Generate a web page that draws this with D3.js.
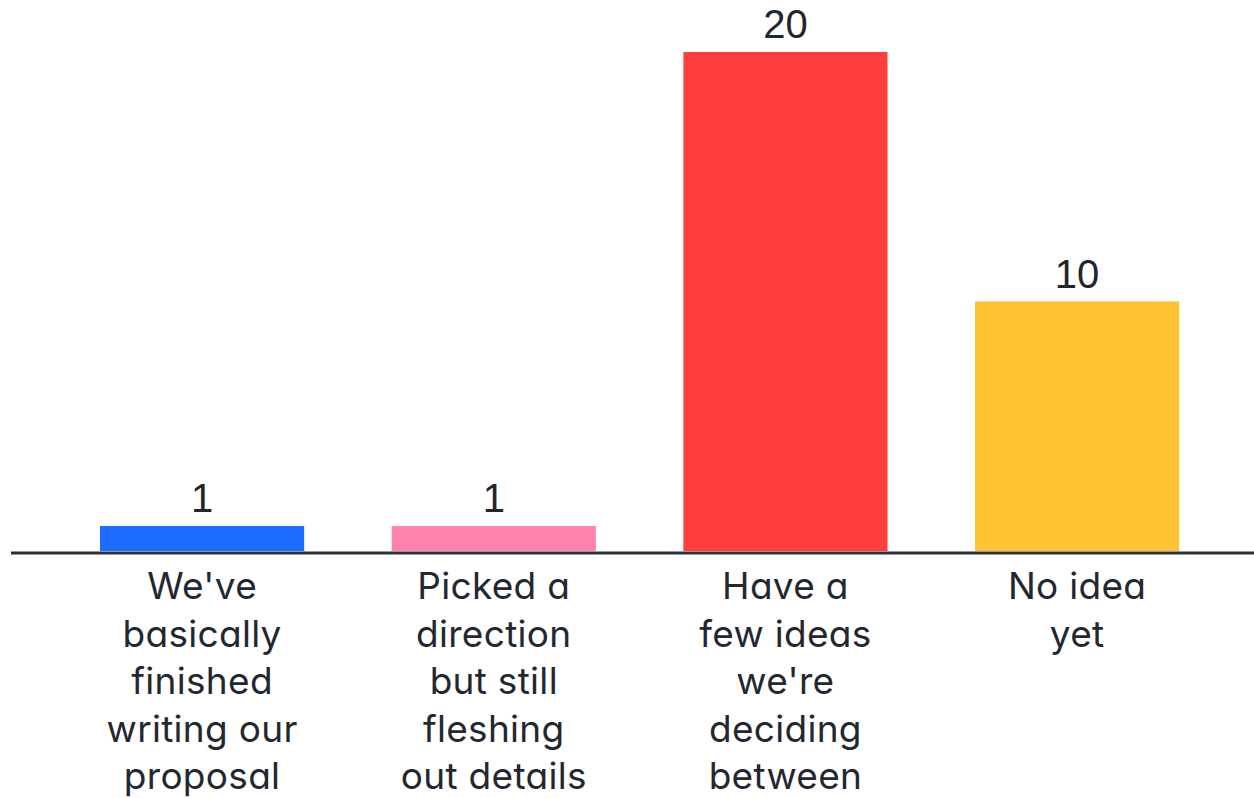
<!DOCTYPE html>
<html>
<head>
<meta charset="utf-8">
<script src="https://cdn.jsdelivr.net/npm/d3@7"></script>
<style>
  html, body { margin: 0; padding: 0; background: #ffffff; }
  svg { display: block; }
  .cat { font-family: Inter, "Noto Sans", sans-serif; font-feature-settings: "cv11" 1; font-size: 37px; font-weight: 400; fill: #23272f; letter-spacing: 0.3px; }
  .val { font-family: "Liberation Sans", Arial, sans-serif; font-size: 40px; fill: #22252b; }
</style>
</head>
<body>
<svg id="chart" width="1254" height="798"></svg>
<script>
// Survey answers: where teams are with their proposal
const categories = [
  "We've\nbasically\nfinished\nwriting our\nproposal",
  "Picked a\ndirection\nbut still\nfleshing\nout details",
  "Have a\nfew ideas\nwe're\ndeciding\nbetween",
  "No idea\nyet"
];
const counts = [1, 1, 20, 10];
const barColors = ["#1c6cff", "#ff82ae", "#ff3f3d", "#ffc233"];

const width = 1254, height = 798;
const baseY = 551, topY = 52;

const svg = d3.select("#chart");

const x = d3.scaleBand()
  .domain(categories)
  .range([12.5, 1266.7])
  .paddingInner(0.3)
  .paddingOuter(0.3);

const y = d3.scaleLinear()
  .domain([0, d3.max(counts)])
  .range([baseY, topY]);

const data = categories.map((c, i) => ({ cat: c, value: counts[i], color: barColors[i] }));

// bars
svg.append("g")
  .selectAll("rect")
  .data(data)
  .join("rect")
  .attr("x", d => x(d.cat))
  .attr("y", d => y(d.value))
  .attr("width", x.bandwidth())
  .attr("height", d => y(0) - y(d.value))
  .attr("fill", d => d.color);

// value labels above the bars
svg.append("g")
  .selectAll("text")
  .data(data)
  .join("text")
  .attr("class", "val")
  .attr("x", d => x(d.cat) + x.bandwidth() / 2)
  .attr("y", d => y(d.value) - 14)
  .attr("text-anchor", "middle")
  .text(d => d.value);

// baseline
svg.append("line")
  .attr("x1", 11)
  .attr("x2", width)
  .attr("y1", baseY + 2)
  .attr("y2", baseY + 2)
  .attr("stroke", "#2b2f37")
  .attr("stroke-width", 3);

// category labels, one tspan per line
const lineH = 47.5;
const labels = svg.append("g")
  .selectAll("text")
  .data(data)
  .join("text")
  .attr("class", "cat")
  .attr("text-anchor", "middle")
  .attr("x", d => x(d.cat) + x.bandwidth() / 2)
  .attr("y", 599);

labels.selectAll("tspan")
  .data(d => d.cat.split("\n").map(t => ({ t, cx: x(d.cat) + x.bandwidth() / 2 })))
  .join("tspan")
  .attr("x", d => d.cx)
  .attr("dy", (d, i) => i === 0 ? 0 : lineH)
  .text(d => d.t);
</script>
</body>
</html>
